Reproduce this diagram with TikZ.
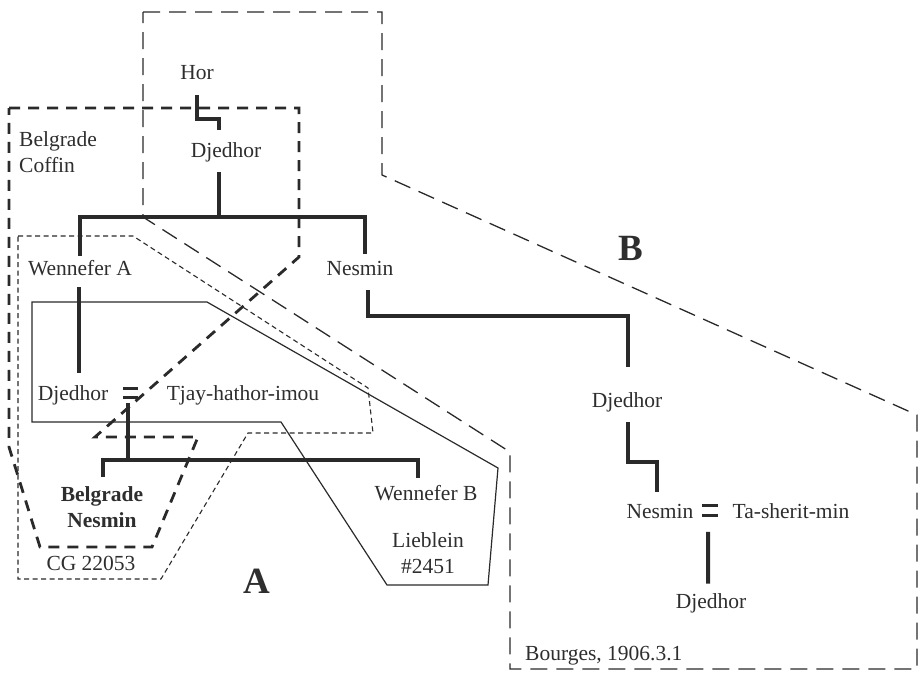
\documentclass[tikz,border=0pt]{standalone}
\usepackage{fontspec}
\setmainfont{Liberation Serif}
\usetikzlibrary{calc}
\definecolor{ink}{HTML}{2E2E2E}
\definecolor{rule}{HTML}{2A2A2A}
\begin{document}
\begin{tikzpicture}[x=1pt,y=-1pt,
  person/.style={inner sep=0pt, text height=14.2pt, text depth=0pt, anchor=base,
    text=ink, font=\fontsize{21.5}{26}\selectfont},
  note/.style={inner sep=0pt, text=ink, font=\fontsize{21.5}{26}\selectfont},
  bigletter/.style={inner sep=0pt, anchor=base, text=ink,
    font=\fontsize{37}{40}\selectfont\bfseries},
  kin/.style={draw=rule, line width=4pt},
  wed/.style={draw=rule, line width=3pt},
  coffinbox/.style={draw=rule, line width=2.8pt, dash pattern=on 11pt off 8pt},
  bourgesbox/.style={draw=rule, line width=1.3pt, dash pattern=on 17pt off 9pt},
  cgbox/.style={draw=rule, line width=1.1pt, dash pattern=on 5pt off 3.5pt},
  liebbox/.style={draw=rule, line width=1.2pt},
]
\useasboundingbox (0,0) rectangle (924,675);

% --- outlines of the sources ---
\draw[bourgesbox] (143,12) -- (382,12) -- (382,175) -- (917,415) -- (917,669)
  -- (510,669) -- (510,452) -- (143,217) -- cycle;
\draw[coffinbox] (9,108) -- (299,108) -- (299,257) -- (95,437) -- (198,437)
  -- (152,547) -- (40,547) -- (9,447) -- cycle;
\draw[cgbox] (18,236) -- (133,236) -- (368,388) -- (373,433) -- (248,433)
  -- (161,579) -- (18,579) -- cycle;
\draw[liebbox] (32,302) -- (207,302) -- (498,468) -- (488,585) -- (387,585)
  -- (281,422) -- (32,422) -- cycle;

% --- people ---
\node[person] (hor)  at (197,79)  {Hor};
\node[person] (djA)  at (226,157) {Djedhor};
\node[person] (wenA) at (80,275)  {Wennefer A};
\node[person] (nesA) at (360,275) {Nesmin};
\node[person] (djB)  at (73,400)  {Djedhor};
\node[person] (tjay) at (243,400) {Tjay-hathor-imou};
\node[note, anchor=north, align=center] (belN) at (102,486) {\bfseries Belgrade\\\bfseries Nesmin};
\node[person] (wenB) at (426,500) {Wennefer B};
\node[person] (djC)  at (627,407) {Djedhor};
\node[person] (nesB) at (660,518) {Nesmin};
\node[person] (taS)  at (791,518) {Ta-sherit-min};
\node[person] (djD)  at (711,608) {Djedhor};

% --- source captions ---
\node[note, anchor=north west, align=left] (coffin) at (19,131.5) {Belgrade\\Coffin};
\node[person] (cg) at (91,570) {CG 22053};
\node[note, anchor=north, align=center] (lieb) at (428,532) {Lieblein\\\#2451};
\node[person, anchor=base west] (bourges) at (525,660) {Bourges, 1906.3.1};
\node[bigletter] (grpA) at (257,593) {A};
\node[bigletter] (grpB) at (631,260) {B};

% --- descent lines ---
\draw[kin] ($(hor.south)+(0,16)$) -- ++(0,24) -| ($(djA.north)+(-7,-13)$);
\coordinate (barA) at ($(djA.south)+(-7,60)$);
\draw[kin] ($(djA.south)+(-7,15)$) -- (barA);
\draw[kin] ($(wenA.north)+(0,-5)$) |- (barA) -| ($(nesA.north)+(5,-7)$);
\draw[kin] ($(wenA.south)+(-1,12)$) -- ($(djB.north)+(6,-13)$);
\draw[kin] ($(nesA.south)+(8,15)$) -- ++(0,26) -| ($(djC.north)+(1,-26)$);
\draw[kin] ($(djC.south)+(1,15)$) -- ++(0,40) -| ($(nesB.north)+(-3,-12)$);

% marriage of Djedhor and Tjay-hathor-imou
\coordinate (m1) at ($(djB.east)+(22,0)$);
\draw[wed] ($(m1)+(-7.5,-4.5)$) -- ++(15,0);
\draw[wed] ($(m1)+(-7.5,4.5)$) -- ++(15,0);
\coordinate (barB) at ($(m1)+(-2,67)$);
\draw[kin] ($(m1)+(-2,10)$) -- (barB);
\draw[kin] ($(belN.north)+(1,-9)$) |- (barB) -| ($(wenB.north)+(-8,-8)$);

% marriage of Nesmin and Ta-sherit-min
\coordinate (m2) at ($($(nesB.east)!0.5!(taS.west)$)+(-3,0)$);
\draw[wed] ($(m2)+(-8,-5)$) -- ++(16,0);
\draw[wed] ($(m2)+(-8,5)$) -- ++(16,0);
\draw[kin] ($(m2)+(-2,21)$) -- ($(djD.north)+(-3,-10)$);
\end{tikzpicture}
\end{document}
